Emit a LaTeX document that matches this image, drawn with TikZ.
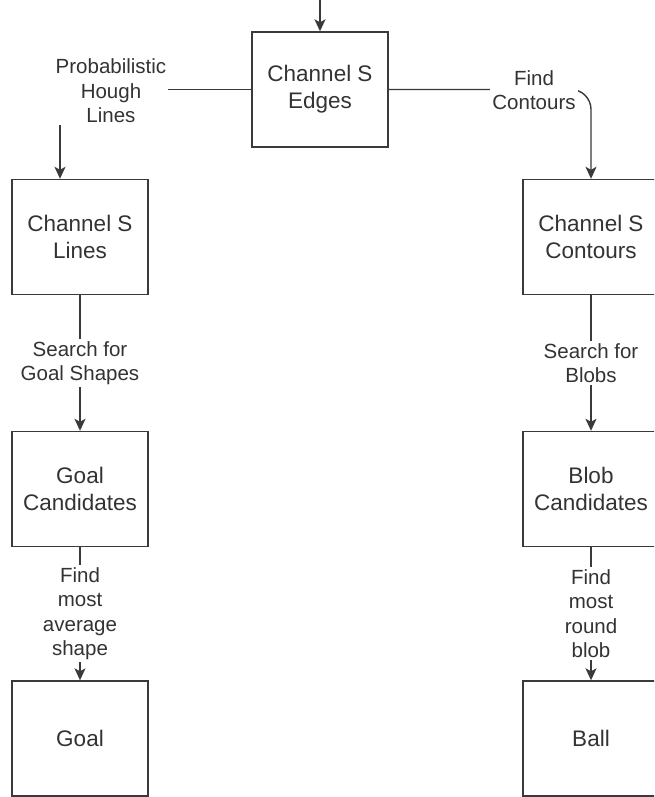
\documentclass[tikz,border=0pt]{standalone}
\usepackage{fontspec}
\setmainfont{Liberation Sans}
\usetikzlibrary{arrows.meta}
\definecolor{ink}{HTML}{333333}
\definecolor{edge}{HTML}{3A3A3A}
\tikzset{
  box/.style={draw=edge, line width=1.4pt, minimum width=136pt, minimum height=115pt,
    inner sep=0pt, align=center, text=ink, font=\fontsize{22.5}{27}\selectfont},
  lbl/.style={fill=white, inner sep=2pt, align=center, text=ink,
    font=\fontsize{20.5}{24.5}\selectfont},
  arr/.style={draw=edge, line width=1.4pt, -{Stealth[length=12pt,width=11pt,inset=3pt]}},
}
\begin{document}
\begin{tikzpicture}[x=1pt,y=-1pt]
\useasboundingbox (0,0) rectangle (654,797);
\clip (0,0) rectangle (654,797);
\fill[white] (0,0) rectangle (654,797);
% boxes
\node[box] (edges) at (320,89.5) {Channel S\\Edges};
\node[box] (lines) at (80,237) {Channel S\\Lines};
\node[box] (contours) at (591,237) {Channel S\\Contours};
\node[box] (goalc) at (80,489) {Goal\\Candidates};
\node[box] (blobc) at (591,489) {Blob\\Candidates};
\node[box] (goal) at (80,738.5) {Goal};
\node[box] (ball) at (591,738.5) {Ball};
% top input
\coordinate (top) at (320,0);
\draw[arr] (top) -- (edges);
% from edges
\draw[arr] (edges.west) -| ([xshift=-20pt]lines.north);
\node[lbl] (hough) at (111,91) {Probabilistic\\Hough\\Lines};
\draw[arr, rounded corners=20pt] (edges.east) -| (contours.north);
\node[lbl] (findc) at (534,90) {Find\\Contours};
% left column
\draw[arr] (lines) -- (goalc) node[lbl, midway] (sgoal) {Search for\\Goal Shapes};
\draw[arr] (goalc) -- (goal) node[lbl, midway] (favg) {Find\\most\\average\\shape};
% right column
\draw[arr] (contours) -- (blobc) node[lbl, midway] (sblob) {Search for\\Blobs};
\draw[arr] (blobc) -- (ball) node[lbl, midway] (fround) {Find\\most\\round\\blob};
\end{tikzpicture}
\end{document}
